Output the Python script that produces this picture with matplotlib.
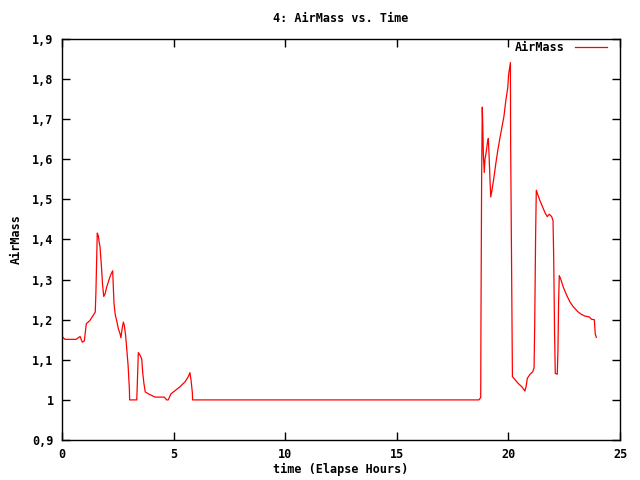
import matplotlib
matplotlib.use('Agg')
import matplotlib.pyplot as plt
from matplotlib.ticker import FuncFormatter, MultipleLocator

# -----------------------------------------------------------------------------
# Data (elapsed hours, airmass)
# -----------------------------------------------------------------------------
hours = [0.0, 0.13, 0.63, 0.81, 0.91, 1.0, 1.09, 1.25, 1.40, 1.49, 1.52, 1.58,
         1.63, 1.66, 1.70, 1.76, 1.82, 1.87, 1.93, 2.0, 2.12, 2.2, 2.27, 2.33,
         2.39, 2.45, 2.52, 2.6, 2.64, 2.70, 2.75, 2.79, 2.85, 2.96, 3.02, 3.03,
         3.35, 3.42, 3.49, 3.57, 3.62, 3.67, 3.73, 3.87, 4.17, 4.58, 4.69, 4.76,
         4.88, 5.06, 5.29, 5.51, 5.66, 5.73, 5.78, 5.84, 5.85,
         18.68, 18.76, 18.77, 18.80, 18.83, 18.85, 18.88, 18.92, 18.95, 19.0,
         19.06, 19.1, 19.13, 19.18, 19.21, 19.27, 19.35, 19.44, 19.53, 19.62,
         19.71, 19.8, 19.89, 19.97, 20.01, 20.06, 20.09, 20.1, 20.15, 20.18,
         20.3, 20.44, 20.6, 20.74, 20.79, 20.85, 20.97, 21.09, 21.15, 21.18,
         21.22, 21.25, 21.31, 21.42, 21.54, 21.64, 21.74, 21.83, 21.94, 22.0,
         22.03, 22.07, 22.1, 22.19, 22.22, 22.25, 22.28, 22.34, 22.46, 22.61,
         22.76, 22.91, 23.06, 23.13, 23.28, 23.43, 23.62, 23.73, 23.85, 23.89,
         23.94]
airmass = [1.158, 1.151, 1.151, 1.158, 1.144, 1.147, 1.19, 1.198, 1.211, 1.219,
           1.269, 1.416, 1.409, 1.395, 1.383, 1.339, 1.285, 1.258, 1.264, 1.281,
           1.302, 1.314, 1.322, 1.24, 1.211, 1.198, 1.178, 1.165, 1.155, 1.18,
           1.194, 1.186, 1.161, 1.087, 1.026, 1.0, 1.0, 1.118, 1.112, 1.103,
           1.066, 1.041, 1.02, 1.015, 1.007, 1.007, 1.0, 1.0, 1.015, 1.023,
           1.033, 1.045, 1.058, 1.068, 1.05, 1.018, 1.0,
           1.0, 1.006, 1.186, 1.55, 1.73, 1.687, 1.608, 1.567, 1.6, 1.616,
           1.641, 1.652, 1.616, 1.542, 1.506, 1.525, 1.554, 1.591, 1.624, 1.653,
           1.68, 1.707, 1.749, 1.778, 1.811, 1.831, 1.841, 1.645, 1.255, 1.058,
           1.05, 1.041, 1.033, 1.022, 1.033, 1.054, 1.064, 1.07, 1.08, 1.194,
           1.414, 1.523, 1.513, 1.496, 1.48, 1.467, 1.457, 1.463, 1.457, 1.447,
           1.352, 1.161, 1.066, 1.064, 1.124, 1.248, 1.31, 1.302, 1.281, 1.261,
           1.244, 1.232, 1.223, 1.219, 1.213, 1.209, 1.207, 1.201, 1.2, 1.165,
           1.156]

TITLE = '4: AirMass vs. Time'
XLABEL = 'time (Elapse Hours)'
YLABEL = 'AirMass'
SERIES = 'AirMass'

plt.rcParams['font.family'] = 'DejaVu Sans Mono'
plt.rcParams['font.weight'] = 'bold'
plt.rcParams['font.size'] = 8.5


def comma_fmt(v, pos):
    # gnuplot-style %g with a decimal comma
    return ('%g' % round(v, 3)).replace('.', ',')


fig = plt.figure(figsize=(6.4, 4.8), dpi=100)
ax = fig.add_axes([62 / 640, 40 / 480, 558 / 640, 401 / 480])
ax.plot(hours, airmass, color='#ff0000', lw=0.9, label=SERIES)

ax.set_xlim(0, 25)
ax.set_ylim(0.9, 1.9)
ax.xaxis.set_major_locator(MultipleLocator(5))
ax.yaxis.set_major_locator(MultipleLocator(0.1))
ax.yaxis.set_major_formatter(FuncFormatter(comma_fmt))
ax.tick_params(direction='in', length=6, width=1, top=True, right=True,
               labelsize=8.5, pad=6)
for s in ax.spines.values():
    s.set_linewidth(1)

ax.set_title(TITLE, fontsize=8.5, fontweight='bold', pad=12)
ax.set_xlabel(XLABEL, fontsize=8.5, fontweight='bold', labelpad=1)
ax.set_ylabel(YLABEL, fontsize=8.5, fontweight='bold', labelpad=7)
ax.legend(loc='center right', bbox_to_anchor=(0.9767, 0.9776), frameon=False,
          markerfirst=False, handlelength=2.7, handletextpad=0.85,
          borderpad=0, borderaxespad=0, fontsize=8.5)

fig.savefig('out.png', dpi=100)
